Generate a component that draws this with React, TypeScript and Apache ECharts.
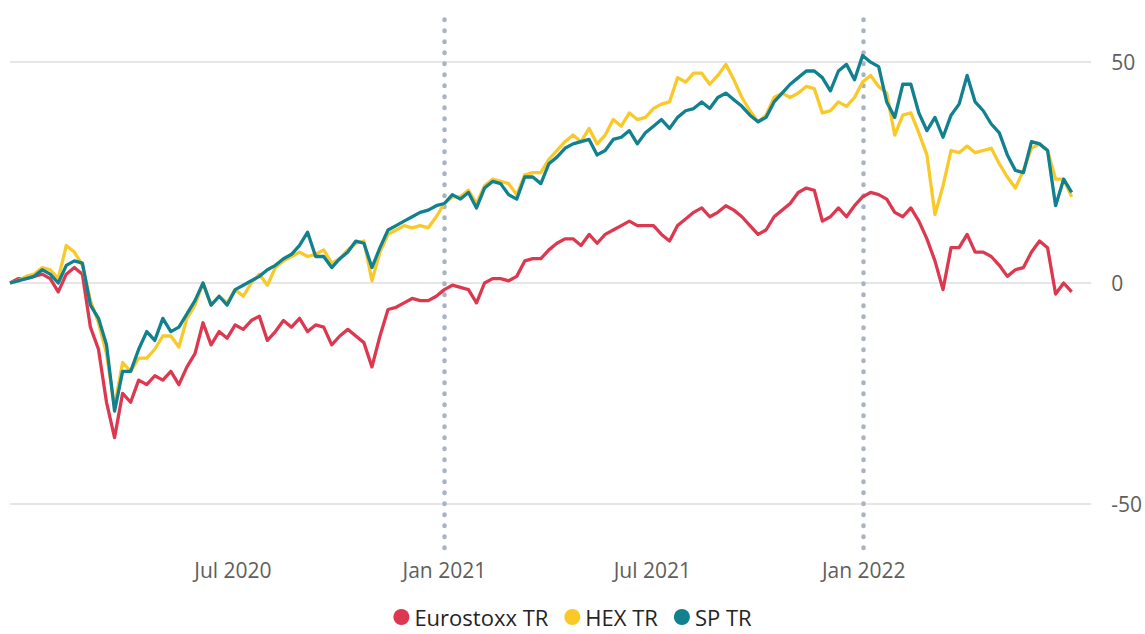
import React, { useEffect, useRef } from "react";
import * as echarts from "echarts";

// Weekly observations starting 20 Dec 2019
const START = { year: 2019, month: 11, day: 20 };
const STEP_DAYS = 7;

const seriesNames = ["Eurostoxx TR", "HEX TR", "SP TR"];

const euroValues = [
  0, 1, 1, 1.5, 2, 1, -2, 2, 3.5, 2, -10, -15, -27, -35, -25, -27, -22, -23, -21, -22, -20, -23, -19, -16, -9, -14, -11,
  -12.5, -9.5, -10.5, -8.5, -7.5, -13, -11, -8.5, -10, -8, -11, -9.5, -10, -14, -12, -10.5, -12, -13.5, -19, -12, -6, -5.5,
  -4.5, -3.5, -4, -4, -3, -1.5, -0.5, -1, -1.5, -4.5, 0, 1, 1, 0.5, 1.5, 5, 5.5, 5.5, 7.5, 9, 10, 10,
  8.5, 11, 9, 11, 12, 13, 14, 13, 13, 13, 11, 9.5, 13, 14.5, 16, 17, 15, 16, 17.5, 16.5, 15, 13, 11,
  12, 15, 16.5, 18, 20.5, 21.5, 21, 14, 15, 17, 15, 17.5, 19.5, 20.5, 20, 19, 16, 15, 17, 14, 10, 5, -1.5, 8, 8, 11, 7, 7, 6, 4, 1.5, 3, 3.5, 7, 9.5, 8, -2.5, 0, -2,
];

const hexValues = [
  0, 0.5, 1.5, 2, 3.5, 3, 1, 8.5, 7, 4, -4, -9, -16, -28, -18, -20, -17, -17, -15, -12, -12, -14.5, -8, -5, 0, -5, -3,
  -4.5, -1.5, -3, 0, 2, -0.5, 3.5, 5, 6, 7, 6, 6.5, 7.5, 4.5, 5.5, 7.5, 9, 9.5, 0.5, 7, 11, 12,
  13, 12.5, 13, 12.5, 15, 18, 19.5, 19.5, 21, 18, 22, 23.5, 23, 22.5, 20, 24.5, 25, 25, 28, 30, 32, 33.5,
  32, 35, 31.5, 33.5, 37, 35.5, 38.5, 37, 37.5, 39.5, 40.5, 41, 46.5, 45.5, 47.5, 47.5, 45, 47, 49.5, 46, 42, 39, 36.5,
  38, 42, 43, 42, 43, 44.5, 44, 38.5, 39, 41, 40, 42, 45.5, 47, 44.5, 43, 33.5, 38, 38.5, 34, 29, 15.5, 22, 30, 29.5, 31, 29.5, 30, 30.5, 27, 24, 21.5, 25.5, 30.5, 31.5, 30, 23.5, 23.5, 19.5,
];

const spValues = [
  0, 0.5, 1, 1.5, 3, 2, 0, 4, 5, 4.5, -5, -8, -14, -29, -20, -20, -15, -11, -13, -8, -11, -10, -7, -4, 0, -5, -3,
  -5, -1.5, -0.5, 0.5, 1.5, 3, 4, 5.5, 6.5, 8.5, 11.5, 6, 6, 3.5, 5.5, 7, 9.5, 9, 3.5, 8, 12, 13,
  14, 15, 16, 16.5, 17.5, 18, 20, 19, 20.5, 17, 21.5, 23, 22.5, 20, 19, 24, 24, 22.5, 27, 28.5, 30.5, 31.5,
  32, 32.5, 29, 30, 32.5, 33, 34.5, 31.5, 34, 35.5, 37, 35, 37.5, 39, 39.5, 41, 39.5, 42, 43, 41.5, 40, 38, 36.5,
  37.5, 41, 43, 45, 46.5, 48, 48, 46.5, 43.5, 48, 49.5, 46, 51.5, 50, 49, 41, 37.5, 45, 45, 38.5, 34.5, 37.5, 33, 38, 40.5, 47, 41, 39, 36, 34, 29, 25.5, 25, 32, 31.5, 30, 17.5, 23.5, 20.5,
];

const xTickDates = ["2020-07-01", "2021-01-01", "2021-07-01", "2022-01-01"];
const xTickLabels = ["Jul 2020", "Jan 2021", "Jul 2021", "Jan 2022"];
const markerDates = ["2021-01-01", "2022-01-01"];
const yTickValues = [-50, 0, 50];
const axisRange = { xMin: "2019-12-20", xMax: "2022-07-18", yMin: -60, yMax: 60 };

const colors = ["#DC3950", "#F9C829", "#11808F"];

function ts(s: string): number {
  const [y, m, d] = s.split("-").map(Number);
  return new Date(y, m - 1, d).getTime();
}

function dateAt(i: number): number {
  return new Date(START.year, START.month, START.day + STEP_DAYS * i).getTime();
}

export default function App() {
  const ref = useRef<HTMLDivElement>(null);

  useEffect(() => {
    if (!ref.current) return;
    const chart = echarts.init(ref.current, undefined, { renderer: "svg" });
    const allValues = [euroValues, hexValues, spValues];
    const font = "'Open Sans', 'Noto Sans', sans-serif";
    const tickTs = xTickDates.map(ts);

    const series: any[] = [
      {
        name: "__grid",
        type: "line",
        data: [],
        silent: true,
        z: 1,
        markLine: {
          silent: true,
          symbol: "none",
          label: { show: false },
          animation: false,
          data: [
            ...yTickValues.map((v) => ({
              yAxis: v,
              lineStyle: { color: "#E6E6E6", width: 2, type: "solid" },
            })),
            ...markerDates.map((d) => ({
              xAxis: ts(d),
              lineStyle: { color: "#A9B3C1", width: 4.5, type: [0.5, 10.5], cap: "round" },
            })),
          ],
        },
      },
      ...seriesNames.map((name, k) => ({
        name,
        type: "line",
        z: 5,
        showSymbol: false,
        symbol: "circle",
        lineStyle: { width: 3.3, color: colors[k], join: "round" },
        itemStyle: { color: colors[k] },
        data: allValues[k].map((v, i) => [dateAt(i), v]),
      })),
    ];

    chart.setOption({
      animation: false,
      textStyle: { fontFamily: font },
      grid: { left: 10, right: 53, top: 18, height: 530 },
      legend: {
        data: seriesNames,
        bottom: 1,
        left: "center",
        icon: "circle",
        itemWidth: 16,
        itemHeight: 16,
        itemGap: 16,
        textStyle: { fontSize: 22, color: "#252423", fontFamily: font },
      },
      xAxis: {
        type: "value",
        min: ts(axisRange.xMin),
        max: ts(axisRange.xMax),
        axisLine: { show: false },
        axisTick: { show: false },
        splitLine: { show: false },
        axisLabel: {
          customValues: tickTs,
          margin: 11,
          fontSize: 21,
          color: "#605E5C",
          fontFamily: font,
          formatter: (v: number) => {
            const idx = tickTs.findIndex((t) => Math.abs(t - v) < 43200000);
            return idx >= 0 ? xTickLabels[idx] : "";
          },
        },
      },
      yAxis: {
        type: "value",
        position: "right",
        min: axisRange.yMin,
        max: axisRange.yMax,
        interval: 10,
        axisLine: { show: false },
        axisTick: { show: false },
        splitLine: { show: false },
        axisLabel: {
          customValues: yTickValues,
          margin: 20,
          fontSize: 21,
          color: "#605E5C",
          fontFamily: font,
          formatter: (v: number) => (v % 50 === 0 ? String(v) : ""),
        },
      },
      series,
    });
    return () => chart.dispose();
  }, []);

  return (
    <div
      ref={ref}
      style={{ position: "fixed", left: 0, top: 0, width: 1145, height: 634, background: "#fff" }}
    />
  );
}
